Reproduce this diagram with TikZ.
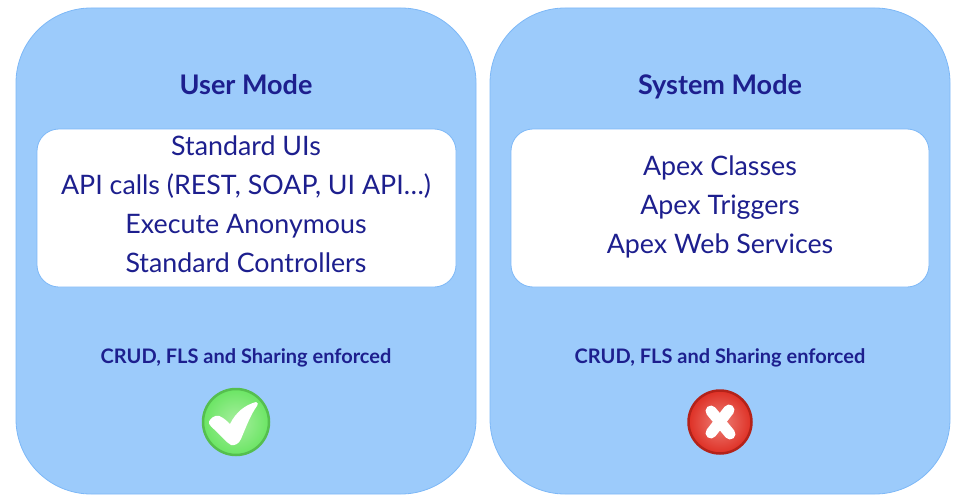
\documentclass[tikz,border=0pt]{standalone}
\usepackage{fontspec}
\setmainfont{Lato}
\definecolor{panelblue}{HTML}{9CCBFB}
\definecolor{edgeblue}{HTML}{7DB8F7}
\definecolor{inkblue}{HTML}{1D1F8E}
\definecolor{okfill}{HTML}{6BE564}
\definecolor{okglow}{HTML}{A8EFA0}
\definecolor{okedge}{HTML}{55BF4E}
\definecolor{nofill}{HTML}{DE3025}
\definecolor{noglow}{HTML}{EE8078}
\definecolor{noedge}{HTML}{B42219}
\tikzset{
  panel/.style={draw=edgeblue, fill=panelblue, line width=0.8pt, rounded corners=75pt},
  listbox/.style={draw=edgeblue, fill=white, line width=0.8pt, rounded corners=22pt},
  heading/.style={anchor=base, text=inkblue, font=\fontsize{27}{32}\selectfont\bfseries},
  entry/.style={anchor=base, text=inkblue, font=\fontsize{26.8}{32}\selectfont},
  note/.style={anchor=base, text=inkblue, font=\fontsize{20}{24}\selectfont\bfseries},
}
\begin{document}
\begin{tikzpicture}[x=1pt, y=-1pt]
\useasboundingbox (0,0) rectangle (958,503);
% left side
\draw[panel] (16,8) rectangle (476,494);
\draw[listbox] (37,129) rectangle (456,287);
\node[heading] (U_head) at (246,94) {User Mode};
\node[entry] (U_0) at (246,155) {Standard UIs};
\node[entry] (U_1) at (246,194) {API calls (REST, SOAP, UI API…)};
\node[entry] (U_2) at (246,233) {Execute Anonymous};
\node[entry] (U_3) at (246,272) {Standard Controllers};
\node[note] (U_note) at (246,363) {CRUD, FLS and Sharing enforced};
\shade[inner color=okglow, outer color=okfill, draw=okedge, line width=2.5pt] (236,422) circle (33);
\fill[white] (209,421.5) .. controls (213,415) and (218,414) .. (223,418)
  .. controls (226,420) and (229,423) .. (230,424)
  .. controls (236,412) and (245,405) .. (256,402)
  .. controls (258.5,402) and (258,405) .. (257,406)
  .. controls (251,414) and (246,427) .. (241,439)
  .. controls (239,444) and (234,446) .. (231,445)
  .. controls (226,442) and (222,437) .. (217,432)
  .. controls (213,428) and (208,425) .. (209,421.5) -- cycle;
% right side
\draw[panel] (490,8) rectangle (950,494);
\draw[listbox] (511,129) rectangle (929,287);
\node[heading] (S_head) at (720,94) {System Mode};
\node[entry] (S_0) at (720,175) {Apex Classes};
\node[entry] (S_1) at (720,214) {Apex Triggers};
\node[entry] (S_2) at (720,253) {Apex Web Services};
\node[note] (S_note) at (720,363) {CRUD, FLS and Sharing enforced};
\shade[inner color=noglow, outer color=nofill, draw=noedge, line width=2.5pt] (720,422) circle (31.5);
\draw[white, line width=11pt, line cap=round] (711,411) -- (730,434);
\draw[white, line width=11pt, line cap=round] (729,410) -- (711,433);
\end{tikzpicture}
\end{document}
